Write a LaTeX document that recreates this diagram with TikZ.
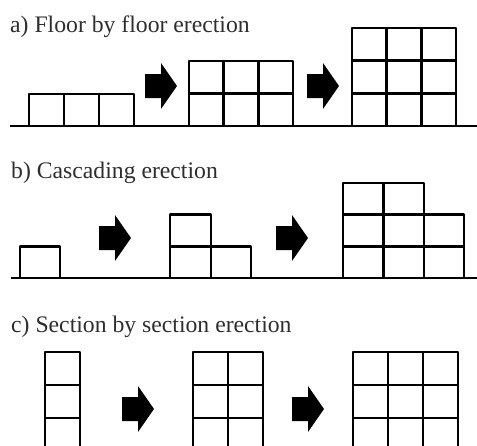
\documentclass[tikz,border=0pt]{standalone}
\usepackage{fontspec}
\setmainfont{Liberation Serif}
\usepackage{tikz}
\begin{document}
\begin{tikzpicture}[x=1pt,y=-1pt,
  cell/.style={draw=black,line width=2.7pt,line join=round},
  ground/.style={draw=black,line width=2.7pt},
  lbl/.style={anchor=base west,inner sep=0pt,text=black!82,font=\fontsize{23.7}{28}\selectfont},
  fatarrow/.pic={\fill[black] (0,-12) -- (16,-12) -- (16,-23) -- (32,0) -- (16,23) -- (16,12) -- (0,12) -- cycle;}]
\useasboundingbox (0,0) rectangle (477,445);
\clip (0,0) rectangle (477,445);
% labels
\node[lbl] (ta) at (10,32) {a) Floor by floor erection};
\node[lbl] (tb) at (11,178) {b) Cascading erection};
\node[lbl] (tc) at (11,332) {c) Section by section erection};
% ----- a) -----
\draw[ground] (10,126) -- (477,126);
\foreach \i in {0,1,2} \draw[cell] ({29+\i*35},94) rectangle ++(35,32);
\foreach \i in {0,1,2} \foreach \j in {0,1}
  \draw[cell] ({189+\i*34.7},{126-(\j+1)*32.5}) rectangle ++(34.7,32.5);
\foreach \i in {0,1,2} \foreach \j in {0,1,2}
  \draw[cell] ({352+\i*34.7},{126-(\j+1)*32.7}) rectangle ++(34.7,32.7);
\pic at (145,86) {fatarrow};
\pic at (307,86) {fatarrow};
% ----- b) -----
\draw[ground] (11,278) -- (477,278);
\draw[cell] (20,246.3) rectangle (60,278);
\draw[cell] (170,214.6) rectangle (211,246.3);
\draw[cell] (170,246.3) rectangle (211,278);
\draw[cell] (211,246.3) rectangle (251,278);
\foreach \i in {0,1} \foreach \j in {0,1,2}
  \draw[cell] ({343+\i*40.5},{278-(\j+1)*31.7}) rectangle ++(40.5,31.7);
\foreach \j in {0,1}
  \draw[cell] (424,{278-(\j+1)*31.7}) rectangle (464,{278-\j*31.7});
\pic at (99,238) {fatarrow};
\pic at (276,238) {fatarrow};
% ----- c) -----
\foreach \j in {0,1,2,3}
  \draw[cell] (45,{352+\j*33}) rectangle ++(35,33);
\foreach \i in {0,1} \foreach \j in {0,1,2,3}
  \draw[cell] ({193+\i*35},{352+\j*33}) rectangle ++(35,33);
\foreach \i in {0,1,2} \foreach \j in {0,1,2,3}
  \draw[cell] ({353+\i*35},{352+\j*33}) rectangle ++(35,33);
\pic at (122,409) {fatarrow};
\pic at (292,409) {fatarrow};
\end{tikzpicture}
\end{document}
